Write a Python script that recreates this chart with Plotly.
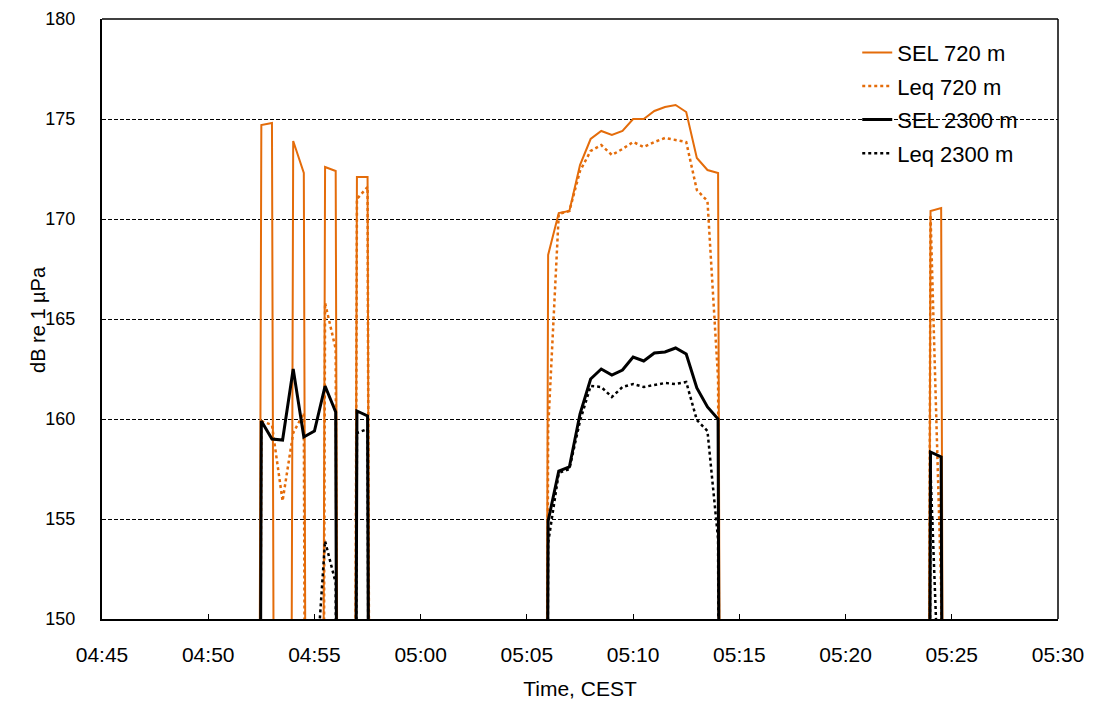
import plotly.graph_objects as go

# ---- data (30-s samples; 0 = no signal / blank, plotted as zero like the source) ----
times = [
    "04:52:00", "04:52:30", "04:53:00", "04:53:30", "04:54:00", "04:54:30", "04:55:00",
    "04:55:30", "04:56:00", "04:56:30", "04:57:00", "04:57:30", "04:58:00",
    "05:05:30", "05:06:00", "05:06:30", "05:07:00", "05:07:30", "05:08:00", "05:08:30",
    "05:09:00", "05:09:30", "05:10:00", "05:10:30", "05:11:00", "05:11:30", "05:12:00",
    "05:12:30", "05:13:00", "05:13:30", "05:14:00", "05:14:30",
    "05:23:30", "05:24:00", "05:24:30", "05:25:00",
]

sel_720 = [
    0, 174.7, 174.8, 0, 173.9, 172.3, 0, 172.6, 172.4, 0, 172.1, 172.1, 0,
    0, 168.2, 170.3, 170.4, 172.7, 174.0, 174.4, 174.2, 174.4, 175.0, 175.0, 175.4,
    175.6, 175.7, 175.35, 173.05, 172.45, 172.3, 0,
    0, 170.4, 170.55, 0,
]
leq_720 = [
    0, 159.9, 159.7, 155.9, 159.3, 160.3, 0, 165.8, 163.5, 0, 171.0, 171.6, 0,
    0, 159.5, 170.25, 170.4, 172.4, 173.4, 173.7, 173.2, 173.5, 173.85, 173.6, 173.85,
    174.05, 173.95, 173.85, 171.45, 170.9, 162.0, 0,
    0, 170.2, 151.5, 0,
]
sel_2300 = [
    0, 159.9, 159.0, 158.95, 162.5, 159.1, 159.4, 161.65, 160.35, 0, 160.4, 160.15, 0,
    0, 154.9, 157.4, 157.6, 160.25, 162.0, 162.5, 162.2, 162.45, 163.1, 162.9, 163.3,
    163.35, 163.55, 163.25, 161.55, 160.6, 160.0, 0,
    0, 158.35, 158.1, 0,
]
leq_2300 = [
    0, 0, 0, 0, 0, 0, 146.0, 153.9, 151.8, 0, 159.3, 159.5, 0,
    0, 153.8, 157.3, 157.5, 159.9, 161.65, 161.6, 161.1, 161.6, 161.75, 161.6, 161.7,
    161.8, 161.75, 161.85, 159.95, 159.4, 154.0, 0,
    0, 157.4, 143.0, 0,
]

series_names = ["SEL 720 m", "Leq 720 m", "SEL 2300 m", "Leq 2300 m"]
y_title = "dB re 1 µPa"
x_title = "Time, CEST"

ORANGE = "#E46C0A"
BLACK = "#000000"
FONT = "Liberation Sans, Arial, sans-serif"
DAY = "2020-06-01 "

x = [DAY + t for t in times]

fig = go.Figure()
styles = [
    (sel_720, ORANGE, 2, "solid"),
    (leq_720, ORANGE, 2.5, "dot"),
    (sel_2300, BLACK, 3, "solid"),
    (leq_2300, BLACK, 2.5, "dot"),
]
for name, (vals, color, width, dash) in zip(series_names, styles):
    fig.add_trace(go.Scatter(
        x=x, y=vals, mode="lines", name=name, legendgroup=name,
        line=dict(color=color, width=width, dash=dash),
    ))

# the page body adds an 8 px margin, so the figure is 8 px smaller and shifted
fig.update_layout(
    width=1087, height=696,
    margin=dict(l=94, r=37, t=11, b=85, autoexpand=False),
    paper_bgcolor="white", plot_bgcolor="white",
    font=dict(family=FONT, size=21, color="black"),
    showlegend=True,
    legend=dict(
        x=0.79, y=0.979, xanchor="left", yanchor="top",
        bgcolor="rgba(0,0,0,0)", font=dict(size=22, family=FONT),
        traceorder="grouped", tracegroupgap=2,
    ),
    xaxis=dict(
        type="date",
        range=[DAY + "04:45:00", DAY + "05:30:00"],
        dtick=300000, tick0=DAY + "04:45:00", tickformat="%H:%M",
        ticks="inside", ticklen=5, tickcolor="black", tickwidth=1,
        showgrid=False, showline=True, linecolor="black", linewidth=2,
        ticklabelstandoff=16, automargin=False, ticklabeloverflow="allow",
        title=dict(text=x_title, standoff=16, font=dict(size=21)),
        tickfont=dict(size=21),
    ),
    yaxis=dict(
        range=[150, 180], dtick=5, tick0=150,
        showgrid=True, gridcolor="black", gridwidth=1, griddash="4px,2px",
        showline=True, linecolor="black", linewidth=2,
        ticks="", ticklabelstandoff=21, automargin=False, ticklabeloverflow="allow",
        tickfont=dict(size=18), zeroline=False,
    ),
    annotations=[dict(
        text=y_title, textangle=-90, xref="paper", yref="paper",
        x=-0.067, y=0.5, xanchor="center", yanchor="middle",
        showarrow=False, font=dict(size=20, family=FONT),
    )],
    shapes=[
        dict(type="line", xref="paper", yref="paper", x0=0, y0=1, x1=1, y1=1,
             line=dict(color="black", width=1.5), layer="above"),
        dict(type="line", xref="paper", yref="paper", x0=1, y0=0, x1=1, y1=1,
             line=dict(color="black", width=1.5), layer="above"),
    ],
)

fig.write_html("out.html")
